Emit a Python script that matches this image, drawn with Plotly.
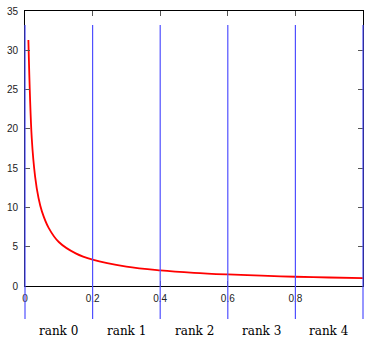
import plotly.graph_objects as go

# Data
curve_x = [0.01, 0.02, 0.03, 0.04, 0.05, 0.07, 0.10, 0.15, 0.20, 0.30, 0.40,
           0.50, 0.60, 0.70, 0.80, 0.90, 1.00]
curve_y = [31.3, 18.8, 13.9, 11.2, 9.5, 7.4, 5.6, 4.15, 3.35, 2.47, 1.99,
           1.68, 1.47, 1.31, 1.18, 1.08, 1.00]
rank_bounds = [0.0, 0.2, 0.4, 0.6, 0.8, 1.0]
rank_labels = ["rank 0", "rank 1", "rank 2", "rank 3", "rank 4"]
x_tickvals = [0, 0.2, 0.4, 0.6, 0.8]
x_ticktext = ["0", "0.2", "0.4", "0.6", "0.8"]
y_tickvals = [0, 5, 10, 15, 20, 25, 30, 35]

x_range = [0, 1]

fig = go.Figure()
fig.add_trace(go.Scatter(x=curve_x, y=curve_y, mode="lines",
                         line=dict(color="#ff0000", width=1.8, shape="spline"),
                         showlegend=False, hoverinfo="skip"))

def to_paper(v):
    return (v - x_range[0]) / (x_range[1] - x_range[0])

shapes = []
for b in rank_bounds:
    shapes.append(dict(type="line", xref="paper", yref="paper",
                       x0=to_paper(b), x1=to_paper(b), y0=-0.12, y1=0.949,
                       line=dict(color="rgb(80,80,255)", width=1.2), layer="above"))

annotations = []
for i, lab in enumerate(rank_labels):
    mid = (rank_bounds[i] + rank_bounds[i + 1]) / 2
    annotations.append(dict(x=mid, y=-0.163, xref="x", yref="paper", text=lab,
                            showarrow=False, xanchor="center", yanchor="middle",
                            borderpad=0,
                            font=dict(family="DejaVu Serif", size=12, color="black")))

fig.update_layout(
    width=365, height=338,
    margin=dict(l=25, r=2, t=11, b=52, autoexpand=False),
    paper_bgcolor="white", plot_bgcolor="white",
    shapes=shapes, annotations=annotations,
    font=dict(family="Liberation Sans, Arial", size=10, color="#222"),
    xaxis=dict(range=x_range, tickvals=x_tickvals, ticktext=x_ticktext,
               ticks="inside", ticklen=5, tickcolor="#555", tickwidth=1,
               showline=True, linecolor="black", linewidth=1, mirror="ticks",
               showgrid=False, zeroline=False, ticklabelstandoff=3,
               automargin=False),
    yaxis=dict(range=[0, 35], tickvals=y_tickvals,
               ticks="inside", ticklen=5, tickcolor="#555", tickwidth=1,
               showline=True, linecolor="black", linewidth=1, mirror="ticks",
               showgrid=False, zeroline=True, zerolinecolor="#222", zerolinewidth=2,
               ticklabelstandoff=4, automargin=False),
)

fig.write_html("out.html", config={"displayModeBar": False},
               post_script="document.body.style.margin='0';document.body.style.overflow='hidden';")
